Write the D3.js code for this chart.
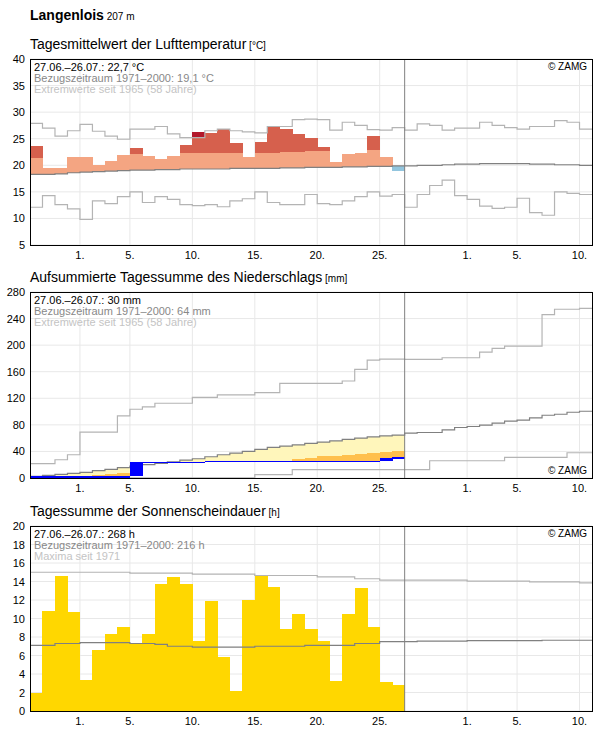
<!DOCTYPE html>
<html>
<head>
<meta charset="utf-8">
<script src="https://cdn.jsdelivr.net/npm/d3@7"></script>
<style>
body { margin: 0; background: #fff; font-family: Arial, "Liberation Sans", sans-serif; }
rect { shape-rendering: crispEdges; }
</style>
</head>
<body>
<svg id="chart" width="596" height="729"></svg>
<script>
// days from 27.06. (index 0) to 10.08. (index 44); observed up to 26.07. (index 29)
var nDays = 45
var nObs = 30
var xTickDays = [4, 8, 13, 18, 23, 28, 35, 39, 44]
var xTickLabels = ["1.", "5.", "10.", "15.", "20.", "25.", "1.", "5.", "10."]

// temperature
var tempObs = [23.6,19.4,19.4,21.6,21.6,20.1,20.8,22.0,23.25,21.75,21.1,21.75,23.8,26.3,26.1,26.8,24.1,21.6,24.4,27.3,26.8,25.9,25.1,23.4,20.6,22.1,22.3,25.5,21.5,19.0]
var tempNorm = [18.3,18.3,18.4,18.6,18.7,18.8,18.9,19.0,19.1,19.1,19.2,19.2,19.3,19.3,19.3,19.3,19.4,19.4,19.4,19.4,19.5,19.5,19.6,19.6,19.6,19.7,19.7,19.8,19.8,19.9,19.9,20.0,20.0,20.1,20.2,20.2,20.3,20.3,20.3,20.3,20.2,20.2,20.1,20.1,20.0]
var tempMax = [27.9,27.0,25.5,26.5,27.7,26.4,25.5,24.9,26.8,26.8,27.3,25.9,25.2,25.2,26.5,26.8,26.5,26.3,26.1,27.3,27.3,28.6,28.7,28.6,26.6,28.1,27.5,26.7,26.6,27.1,26.6,27.8,27.5,26.6,27.0,27.0,28.1,27.5,27.1,26.8,27.3,27.3,28.4,28.1,26.8]
var tempMin = [12.1,14.3,12.6,11.8,9.8,13.3,12.8,14.1,15.0,13.0,14.1,13.6,12.6,12.4,12.6,12.2,13.3,13.7,15.0,13.0,12.6,12.6,14.5,12.8,12.6,13.3,14.1,15.0,14.2,14.5,12.1,14.5,16.2,17.2,14.3,13.6,12.3,11.9,12.1,13.8,11.1,10.6,15.0,14.7,14.5]
var tempBand = 3.0

// precipitation, accumulated
var precObs = [1.5,1.5,1.5,1.5,1.5,1.5,1.5,1.5,23.5,23.5,23.5,23.8,23.8,23.8,24.5,24.5,24.5,24.5,24.5,24.5,24.5,24.5,24.5,24.5,24.5,24.5,24.5,24.5,29.5,30]
var precNorm = [2.5,4,5.5,7,8.5,11,13,15.5,18,20,22,24.5,27,29,32,35,37.5,40,43,46,48,50,52,54,56,58,60,62,63.5,64.5,67.5,68.5,68.5,72.5,76,77.5,79.5,82.5,85.5,87,90.5,94.5,96,99,100.5]
var precLow = [1,1.5,2,3,3.5,4.5,5.5,7,8,9,10.5,11.5,13,14,15,17,18,19.5,21,22.5,24,29,30.5,32.5,32.5,35,36,37,39,41]
var precMax = [21.5,21.5,27.5,35,69,69,69,93.5,103.5,107,112.5,112.5,112.5,121.5,121.5,125,125,125,128.5,128.5,142.5,142.5,142.5,142.5,142.5,146,163.5,177.5,179,179,178.5,178.5,178.5,181,181,181,189.5,195,198.5,198.5,198.5,246,254,254,255.5]
var precMin = [0.3,0.3,0.3,0.3,0.3,0.3,0.3,0.3,0.3,0.3,0.3,0.3,0.3,0.3,0.3,0.3,0.3,0.3,5,5,5,12.5,12.5,12.5,12.5,12.5,12.5,12.5,12.5,12.5,12.5,12.5,26,26,26,26,26,26,31,31,31,31,31,38,38]

// sunshine
var sunObs = [1.9,10.8,14.6,10.7,3.35,6.6,8.3,9.1,7.25,8.3,13.7,14.5,13.7,7.55,11.9,5.85,2.15,12.0,14.6,13.4,8.85,10.5,8.85,7.55,3.25,10.5,13.3,9.1,3.15,2.8]
var sunNorm = [7.1,7.1,7.3,7.3,7.4,7.4,7.4,7.4,7.3,7.3,7.2,7.0,7.0,6.9,6.9,6.9,6.9,6.9,7.0,7.0,7.0,7.0,7.1,7.1,7.1,7.1,7.3,7.3,7.5,7.5,7.5,7.55,7.55,7.55,7.55,7.6,7.6,7.6,7.6,7.6,7.6,7.65,7.65,7.65,7.65]
var sunMax = [15.0,15.0,15.0,15.0,15.0,15.0,15.0,15.0,14.9,14.9,14.9,14.9,14.9,14.8,14.8,14.8,14.8,14.8,14.65,14.65,14.65,14.65,14.65,14.5,14.5,14.5,14.3,14.3,14.15,14.15,14.15,14.15,14.15,14.15,14.15,14.05,14.05,14.05,14.05,14.05,13.95,13.95,13.95,13.95,13.85]

var svg = d3.select("#chart")
var left = 30, right = 592
var x = d3.scaleLinear().domain([0, nDays]).range([left, right])

svg.append("text").attr("x", 30).attr("y", 20)
	.style("font-size", "14px").style("font-weight", "bold").text("Langenlois")
	.append("tspan").style("font-size", "10px").style("font-weight", "normal").text(" 207 m")

function stepLine(y, vals) {
	var pts = vals.map(function(v, i) { return [i, v] })
	pts.push([vals.length, vals[vals.length - 1]])
	return d3.line().curve(d3.curveStepAfter).x(function(d) { return x(d[0]) }).y(function(d) { return y(d[1]) })(pts)
}

function panel(opt) {
	var y = d3.scaleLinear().domain(opt.domain).range([opt.bottom, opt.top])
	var g = svg.append("g")
	g.append("text").attr("x", 30).attr("y", opt.top - 10).style("font-size", "14px").text(opt.title)
		.append("tspan").style("font-size", "10px").text(" " + opt.unit)
	var yt = d3.range(opt.domain[0], opt.domain[1] + 0.001, opt.step)
	g.selectAll(".gy").data(yt).enter().append("line")
		.attr("x1", left).attr("x2", right).attr("y1", y).attr("y2", y).attr("stroke", "#e8e8e8")
	g.selectAll(".gx").data(xTickDays).enter().append("line")
		.attr("x1", x).attr("x2", x).attr("y1", opt.top).attr("y2", opt.bottom).attr("stroke", "#e8e8e8")
	g.selectAll(".yl").data(yt).enter().append("text")
		.attr("x", 25).attr("y", function(d) { return y(d) + 4 }).attr("text-anchor", "end")
		.style("font-size", "11px").text(function(d) { return d })
	g.selectAll(".xl").data(xTickDays).enter().append("text")
		.attr("x", x).attr("y", opt.bottom + 14).attr("text-anchor", "middle")
		.style("font-size", "11px").text(function(d, i) { return xTickLabels[i] })
	opt.draw(g, y)
	g.append("line").attr("x1", x(nObs)).attr("x2", x(nObs)).attr("y1", opt.top).attr("y2", opt.bottom)
		.attr("stroke", "#808080")
	g.append("rect").attr("x", left).attr("y", opt.top).attr("width", right - left).attr("height", opt.bottom - opt.top)
		.attr("fill", "none").attr("stroke", "#000")
	var leg = opt.legend
	var cols = ["#000", "#888", "#c4c4c4"]
	leg.forEach(function(t, i) {
		g.append("text").attr("x", 34).attr("y", opt.top + 12 + i * 11).style("font-size", "11px")
			.attr("fill", cols[i]).text(t)
	})
	g.append("text").attr("x", right - 5).attr("y", opt.zamgBottom ? opt.bottom - 4 : opt.top + 11)
		.attr("text-anchor", "end").style("font-size", "10px").text("© ZAMG")
}

function lineTo(g, y, vals, color) {
	g.append("path").attr("d", stepLine(y, vals)).attr("fill", "none").attr("stroke", color).attr("stroke-width", 1.2)
}

function box(g, y, i, a, b, color) {
	if (Math.abs(a - b) < 1e-9) return
	g.append("rect").attr("x", x(i)).attr("width", x(i + 1) - x(i) + 0.5)
		.attr("y", y(Math.max(a, b))).attr("height", Math.abs(y(a) - y(b))).attr("fill", color)
}

panel({
	top: 59, bottom: 245, domain: [5, 40], step: 5,
	title: "Tagesmittelwert der Lufttemperatur", unit: "[°C]",
	legend: ["27.06.–26.07.: 22,7 °C", "Bezugszeitraum 1971–2000: 19,1 °C", "Extremwerte seit 1965 (58 Jahre)"],
	draw: function(g, y) {
		tempObs.forEach(function(v, i) {
			var n = tempNorm[i]
			if (v < n) { box(g, y, i, v, n, "#92c5de"); return }
			var cap = n + tempBand
			box(g, y, i, n, Math.min(v, cap), "#f4a582")
			if (v > cap) box(g, y, i, cap, Math.min(v, tempMax[i]), "#d6604d")
			if (v > tempMax[i]) box(g, y, i, tempMax[i], v, "#b2182b")
		})
		lineTo(g, y, tempMax, "#b4b4b4")
		lineTo(g, y, tempMin, "#b4b4b4")
		lineTo(g, y, tempNorm, "#808080")
	}
})

panel({
	top: 292, bottom: 478, domain: [0, 280], step: 40,
	title: "Aufsummierte Tagessumme des Niederschlags", unit: "[mm]", zamgBottom: true,
	legend: ["27.06.–26.07.: 30 mm", "Bezugszeitraum 1971–2000: 64 mm", "Extremwerte seit 1965 (58 Jahre)"],
	draw: function(g, y) {
		precObs.forEach(function(v, i) {
			var n = precNorm[i], lo = precLow[i]
			if (n > v) box(g, y, i, v, n, "#fff6bb")
			if (lo > v) box(g, y, i, v, lo, "#ffc04d")
		})
		lineTo(g, y, precMax, "#b4b4b4")
		lineTo(g, y, precMin, "#b4b4b4")
		lineTo(g, y, precNorm, "#808080")
		precObs.forEach(function(v, i) {
			var prev = i > 0 ? precObs[i - 1] : 0
			var h = Math.max(1.2, y(prev) - y(v))
			g.append("rect").attr("x", x(i)).attr("width", x(i + 1) - x(i) + 0.5)
				.attr("y", y(v) - 0.6).attr("height", h).attr("fill", "#0000ff")
		})
	}
})

panel({
	top: 526, bottom: 711, domain: [0, 20], step: 2,
	title: "Tagessumme der Sonnenscheindauer", unit: "[h]",
	legend: ["27.06.–26.07.: 268 h", "Bezugszeitraum 1971–2000: 216 h", "Maxima seit 1971"],
	draw: function(g, y) {
		sunObs.forEach(function(v, i) { box(g, y, i, 0, v, "#ffd700") })
		lineTo(g, y, sunMax, "#b4b4b4")
		lineTo(g, y, sunNorm, "#808080")
	}
})
</script>
</body>
</html>
